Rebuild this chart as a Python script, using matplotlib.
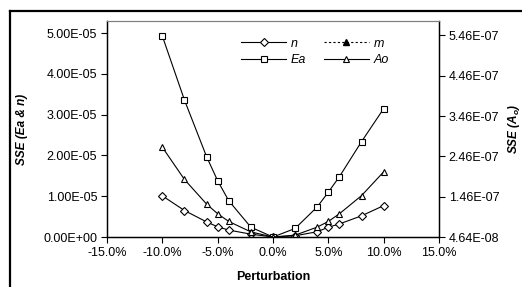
import matplotlib
matplotlib.use('Agg')
import matplotlib.pyplot as plt
from matplotlib.lines import Line2D
from matplotlib.ticker import FuncFormatter

plt.rcParams['font.family'] = ['Liberation Sans', 'DejaVu Sans']

# perturbation in percent
pert = [-10, -8, -6, -5, -4, -2, 0, 2, 4, 5, 6, 8, 10]

# left axis: SSE (Ea & n)
sse_n = [1.01e-5, 0.65e-5, 0.37e-5, 0.25e-5, 0.17e-5, 0.07e-5, 0.0,
         0.03e-5, 0.13e-5, 0.24e-5, 0.32e-5, 0.52e-5, 0.77e-5]
sse_ea = [4.93e-5, 3.36e-5, 1.97e-5, 1.38e-5, 0.89e-5, 0.24e-5, 0.0,
          0.21e-5, 0.74e-5, 1.10e-5, 1.48e-5, 2.34e-5, 3.15e-5]

# right axis: SSE (Ao)
sse_ao = [2.69e-7, 1.89e-7, 1.28e-7, 1.04e-7, 0.85e-7, 0.59e-7, 0.464e-7,
          0.51e-7, 0.71e-7, 0.85e-7, 1.04e-7, 1.49e-7, 2.08e-7]

x_ticks = [-15, -10, -5, 0, 5, 10, 15]
left_ticks = [0, 1e-5, 2e-5, 3e-5, 4e-5, 5e-5]
right_ticks = [4.64e-8, 1.464e-7, 2.464e-7, 3.464e-7, 4.464e-7, 5.464e-7]

fig = plt.figure(figsize=(5.22, 2.87), dpi=100)
ax = fig.add_axes([107 / 522, 1 - 237 / 287, 332 / 522, 216 / 287])
ax2 = ax.twinx()

mk = dict(color='black', lw=0.8, markerfacecolor='white',
          markeredgecolor='black', markeredgewidth=0.8)

h_n, = ax.plot(pert, sse_n, marker='D', markersize=3.8, **mk)
h_ea, = ax.plot(pert, sse_ea, marker='s', markersize=4.5, **mk)
h_ao, = ax2.plot(pert, sse_ao, marker='^', markersize=4.5, **mk)
h_m = Line2D([], [], color='black', lw=0.8, ls=(0, (2, 2)), marker='^',
             markersize=5, markerfacecolor='black', markeredgecolor='black')

ax.set_xlim(-15, 15)
ax.set_ylim(0, 5.3e-5)
ax2.set_ylim(4.64e-8, 5.82e-7)

ax.set_xticks(x_ticks)
ax.set_yticks(left_ticks)
ax2.set_yticks(right_ticks)
ax.xaxis.set_major_formatter(FuncFormatter(lambda v, p: f'{v:.1f}%'))
ax.yaxis.set_major_formatter(FuncFormatter(lambda v, p: f'{v:.2E}'))
ax2.yaxis.set_major_formatter(FuncFormatter(lambda v, p: f'{v:.2E}'))

for a in (ax, ax2):
    a.tick_params(direction='out', length=4, width=0.8, labelsize=9, pad=3)
    a.spines['top'].set_color('#808080')
    a.spines['top'].set_linewidth(0.8)
    for s in ('left', 'right', 'bottom'):
        a.spines[s].set_linewidth(0.9)

ax.set_xlabel('Perturbation', fontsize=9, fontweight='bold', labelpad=9)
ax.set_ylabel('SSE (Ea & n)', fontsize=8.5, fontweight='bold', style='italic', labelpad=11)
ax2.set_ylabel('SSE (A$_\\mathregular{o}$)', fontsize=8.5, fontweight='bold', style='italic', labelpad=5)

leg = ax.legend([h_n, h_ea, h_m, h_ao], ['n', 'Ea', 'm', 'Ao'], ncol=2,
                frameon=False, handlelength=3.6, columnspacing=1.4,
                labelspacing=0.35, handletextpad=0.4,
                loc='upper left', bbox_to_anchor=(0.37, 0.975),
                prop={'style': 'italic', 'size': 9})

# outer chart frame (only top and left edges show)
fy = 1 - 10.5 / 287
fx = 10 / 522
fig.add_artist(Line2D([fx, 1], [fy, fy], transform=fig.transFigure, color='black', lw=1.6))
fig.add_artist(Line2D([fx, fx], [0, fy], transform=fig.transFigure, color='black', lw=1.6))

fig.savefig('out.png', dpi=100)
